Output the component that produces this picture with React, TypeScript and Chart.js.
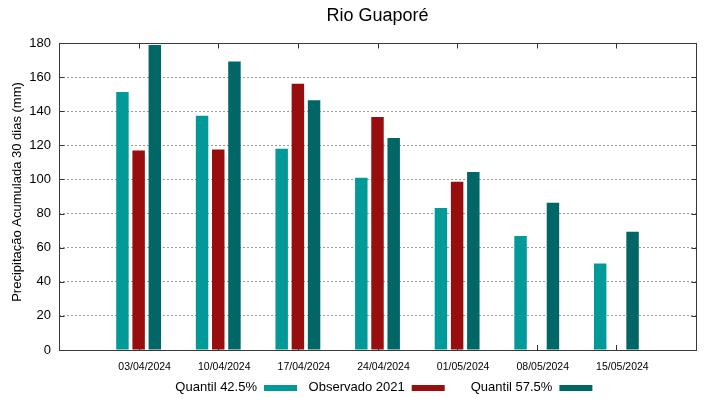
import React, { useEffect, useRef } from 'react';
import { Chart, registerables } from 'chart.js';

Chart.register(...registerables);

const chartTitle = 'Rio Guaporé';
const yAxisTitle = 'Precipitação Acumulada 30 dias (mm)';
const categories = ['03/04/2024', '10/04/2024', '17/04/2024', '24/04/2024', '01/05/2024', '08/05/2024', '15/05/2024'];
const quantil425 = [151.3, 137.4, 118.0, 101.0, 83.3, 66.9, 50.7];
const observado2021 = [116.9, 117.5, 156.1, 136.6, 98.7, null, null];
const quantil575 = [178.8, 169.2, 146.4, 124.3, 104.4, 86.4, 69.3];
const seriesNames = ['Quantil 42.5%', 'Observado 2021', 'Quantil 57.5%'];
const seriesColors = ['#029a98', '#980e0e', '#016766'];
const yMin = 0;
const yMax = 180;
const yStep = 20;

const FONT = '"Liberation Sans", Arial, sans-serif';

const pad = (arr: (number | null)[]) => [null, ...arr, null];

const framePlugin = {
  id: 'gnuFrame',
  beforeDatasetsDraw(chart: any) {
    const { ctx, chartArea, scales } = chart;
    const x = scales.x;
    ctx.save();
    ctx.strokeStyle = '#333';
    ctx.lineWidth = 1;
    for (let i = 1; i <= categories.length; i++) {
      const px = Math.round(x.getPixelForValue(i)) + 0.5;
      ctx.beginPath();
      ctx.moveTo(px, chartArea.bottom);
      ctx.lineTo(px, chartArea.bottom - 5);
      ctx.stroke();
    }
    ctx.restore();
  },
  afterDatasetsDraw(chart: any) {
    const { ctx, chartArea, scales } = chart;
    const x = scales.x;
    const y = scales.y;
    const l = Math.round(chartArea.left) + 0.5;
    const r = Math.round(chartArea.right) + 0.5;
    const t = Math.round(chartArea.top) + 0.5;
    const b = Math.round(chartArea.bottom) + 0.5;
    ctx.save();
    ctx.strokeStyle = '#333';
    ctx.lineWidth = 1;
    for (let i = 1; i <= categories.length; i++) {
      const px = Math.round(x.getPixelForValue(i)) + 0.5;
      ctx.beginPath();
      ctx.moveTo(px, t);
      ctx.lineTo(px, t + 5);
      ctx.stroke();
    }
    for (let v = yMin; v <= yMax; v += yStep) {
      const py = Math.round(y.getPixelForValue(v)) + 0.5;
      ctx.beginPath();
      ctx.moveTo(l, py);
      ctx.lineTo(l + 5, py);
      ctx.moveTo(r, py);
      ctx.lineTo(r - 5, py);
      ctx.stroke();
    }
    ctx.strokeStyle = '#3a3a3a';
    ctx.strokeRect(l, t, r - l, b - t);
    ctx.restore();
  },
  afterDraw(chart: any) {
    const { ctx, chartArea } = chart;
    ctx.save();
    ctx.fillStyle = '#000';
    ctx.textAlign = 'center';
    ctx.textBaseline = 'middle';
    ctx.font = `18px ${FONT}`;
    ctx.fillText(chartTitle, (chartArea.left + chartArea.right) / 2, 16);

    ctx.save();
    ctx.translate(17, 192);
    ctx.rotate(-Math.PI / 2);
    ctx.font = `13px ${FONT}`;
    ctx.fillText(yAxisTitle, 0, 0);
    ctx.restore();

    ctx.font = `13px ${FONT}`;
    ctx.textAlign = 'right';
    chart.data.datasets.forEach((ds: any, i: number) => {
      const swEnd = 297 + i * 147.7;
      const swStart = swEnd - 33;
      ctx.fillStyle = ds.backgroundColor;
      ctx.fillRect(swStart, 385, 33, 6);
      ctx.fillStyle = '#000';
      ctx.fillText(ds.label, swStart - 7, 387.5);
    });
    ctx.restore();
  },
};

export default function App() {
  const ref = useRef<HTMLCanvasElement>(null);

  useEffect(() => {
    document.body.style.margin = '0';
    const canvas = ref.current;
    if (!canvas) return;
    const datasets = [quantil425, observado2021, quantil575].map((d, i) => ({
      label: seriesNames[i],
      data: pad(d),
      backgroundColor: seriesColors[i],
      borderWidth: 0,
      categoryPercentage: 0.61,
      barPercentage: 0.77,
    }));
    const chart = new Chart(canvas, {
      type: 'bar',
      data: { labels: ['', ...categories, ''], datasets },
      options: {
        responsive: false,
        animation: false,
        layout: { padding: { top: 43, right: 23, left: 0, bottom: 0 } },
        plugins: {
          legend: { display: false },
          title: { display: false },
          tooltip: { enabled: false },
        },
        scales: {
          x: {
            type: 'category',
            offset: false,
            grid: { display: false, drawTicks: false },
            border: { display: false },
            ticks: {
              autoSkip: false,
              maxRotation: 0,
              padding: 11,
              labelOffset: 6,
              color: '#000',
              font: { family: FONT, size: 10.5 },
            },
            afterFit: (s: any) => { s.height = 49; },
          },
          y: {
            min: yMin,
            max: yMax,
            grid: { color: '#9a9a9a', drawTicks: false, lineWidth: 1 },
            border: { display: false, dash: [2, 2] },
            ticks: {
              stepSize: yStep,
              padding: 8,
              color: '#000',
              font: { family: FONT, size: 13 },
            },
            afterFit: (s: any) => { s.width = 59; },
          },
        },
      },
      plugins: [framePlugin],
    } as any);
    return () => chart.destroy();
  }, []);

  return <canvas ref={ref} width={719} height={399} style={{ display: 'block' }} />;
}
